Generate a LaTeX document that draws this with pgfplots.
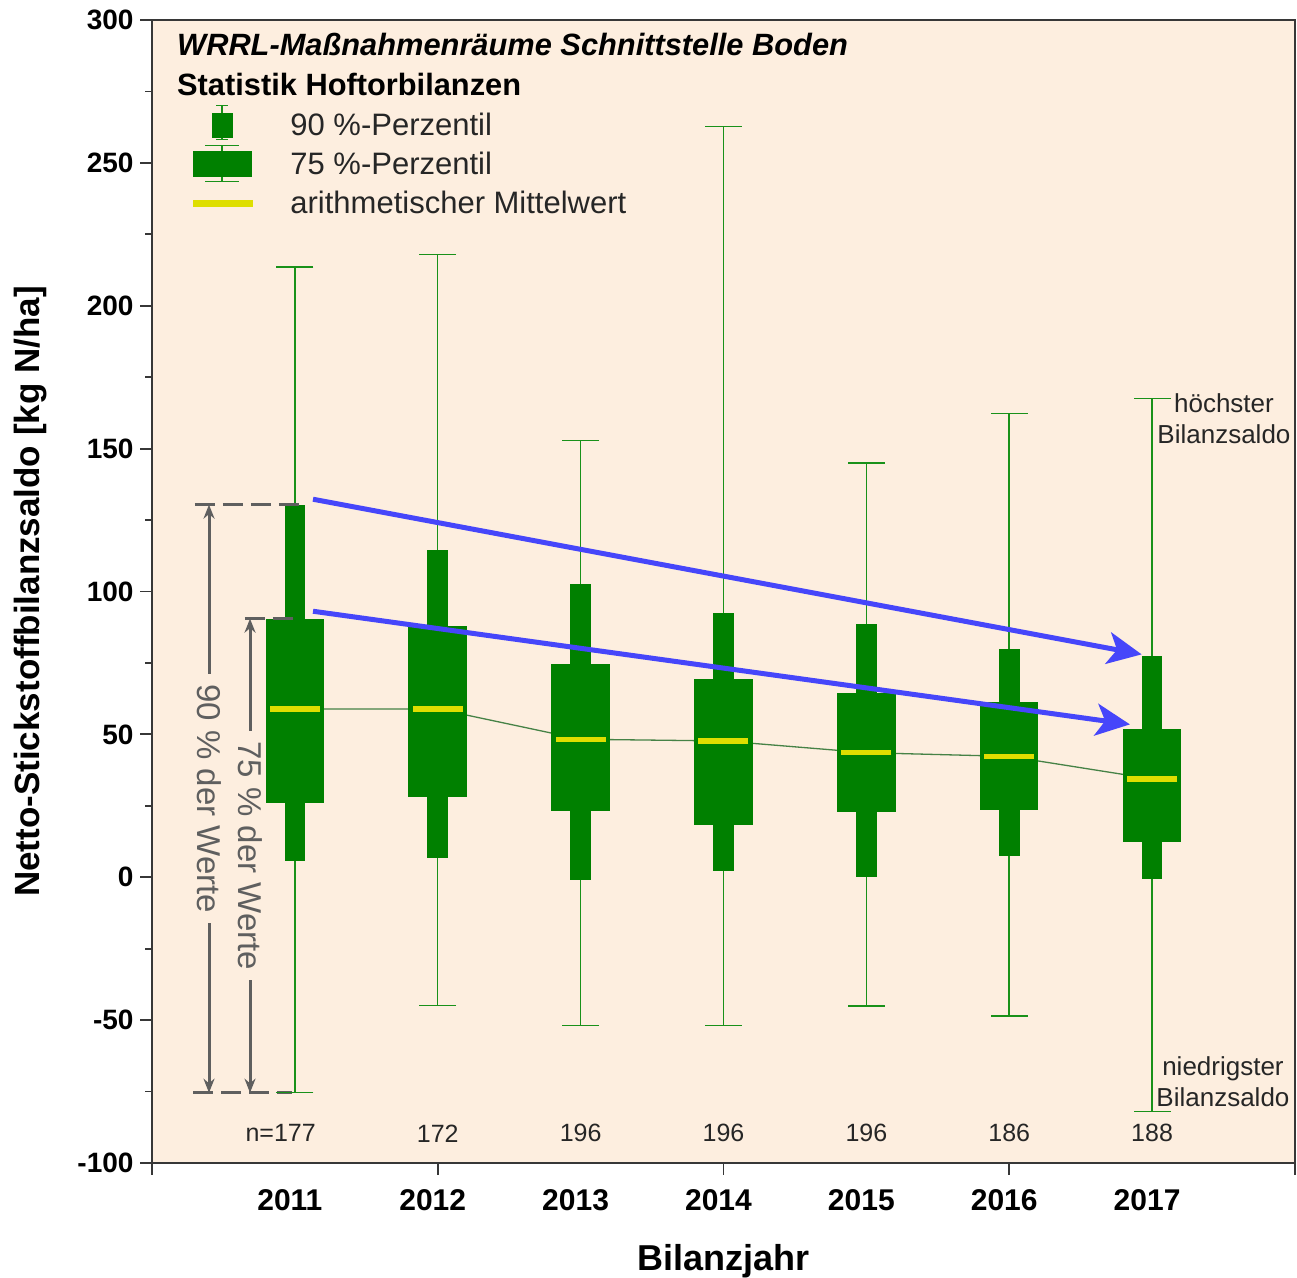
\documentclass[border=0pt]{standalone}
\usepackage{pgfplots}
\pgfplotsset{compat=1.18}
\usepackage{pgfplotstable}
\usepackage{fontspec}
\setmainfont{Liberation Sans}
\usetikzlibrary{arrows.meta}

\definecolor{panelbg}{RGB}{253,238,223}
\definecolor{boxgreen}{RGB}{0,128,0}
\definecolor{whiskgreen}{RGB}{25,145,25}
\definecolor{meangreen}{RGB}{70,130,70}
\definecolor{meanyellow}{RGB}{222,222,0}
\definecolor{trendblue}{RGB}{70,70,250}
\definecolor{annogray}{RGB}{95,95,95}
\definecolor{framegray}{RGB}{55,55,55}

% Hoftorbilanzen: Minimum, Perzentile, Mittelwert, Maximum je Bilanzjahr [kg N/ha]
\pgfplotstableread{
year  min    p5    q1    mean  q3    p95    max
2011  -75.4  5.6   26.1  58.9  90.5  130.4  213.5
2012  -44.8  6.8   28.2  58.9  87.8  114.7  218.0
2013  -51.8  -1.0  23.1  48.3  74.5  102.5  152.8
2014  -51.8  2.2   18.2  47.7  69.3  92.5   262.8
2015  -45.1  0.2   23.0  43.6  64.6  88.5   144.9
2016  -48.6  7.6   23.4  42.3  61.2  79.9   162.3
2017  -81.9  -0.5  12.2  34.4  51.9  77.3   167.5
}\saldo

\begin{document}
\begin{tikzpicture}
\path[use as bounding box] (-152pt,-114pt) rectangle (1145pt,1163pt);
\begin{axis}[
  at={(0pt,0pt)}, anchor=south west,
  scale only axis, width=1143pt, height=1143pt,
  xmin=2010, xmax=2018, ymin=-100, ymax=300,
  clip=false,
  axis background/.style={fill=panelbg},
  axis line style={draw=framegray, line width=2.5pt},
  tick style={draw=framegray, line width=1.8pt},
  tick align=outside, major tick length=12pt, minor tick length=7pt,
  ytick={-100,-50,...,300}, minor ytick={-75,-25,...,275},
  ytick pos=left, xtick pos=bottom,
  xtick={2011,2012,2013,2014,2015,2016,2017},
  xticklabels={2011,2012,2013,2014,2015,2016,2017},
  xtick style={draw=none},
  /pgf/number format/assume math mode=true,
  yticklabel style={font=\fontsize{28}{32}\selectfont\bfseries, xshift=-3pt},
  xticklabel style={font=\fontsize{30}{34}\selectfont\bfseries, yshift=-11pt, xshift=-5pt},
  xlabel={Bilanzjahr},
  ylabel={Netto-Stickstoffbilanzsaldo [kg N/ha]},
  xlabel style={at={(axis description cs:0.5,-0.0855)}, anchor=center,
    font=\fontsize{36}{40}\selectfont\bfseries},
  ylabel style={at={(axis description cs:-0.1067,0.5)}, anchor=center,
    font=\fontsize{35}{40}\selectfont\bfseries},
  legend cell align=left,
  legend style={at={(axis description cs:0.0359,0.9261)}, anchor=north west,
    draw=none, fill=none, inner sep=0pt, outer sep=0pt,
    row sep=0pt, /tikz/column sep=38pt,
    nodes={inner sep=0pt, text height=22pt, text depth=0pt,
      minimum height=39pt, font=\fontsize{31}{36}\selectfont, text=black!85}},
]

% legend symbols
\addlegendimage{legend image code/.code={
  \draw[whiskgreen, line width=1.5pt] (29pt,-15pt) -- (29pt,19pt)
    (23pt,19pt) -- (35pt,19pt) (23pt,-15pt) -- (35pt,-15pt);
  \fill[boxgreen] (19pt,-13pt) rectangle (39pt,11pt);
}}
\addlegendentry{90 \%-Perzentil}
\addlegendimage{legend image code/.code={
  \draw[whiskgreen, line width=1.5pt] (29pt,-18pt) -- (29pt,18pt)
    (12pt,18pt) -- (46pt,18pt) (12pt,-18pt) -- (46pt,-18pt);
  \fill[boxgreen] (0pt,-13pt) rectangle (58pt,12pt);
}}
\addlegendentry{75 \%-Perzentil}
\addlegendimage{legend image code/.code={
  \fill[meanyellow] (0pt,-4pt) rectangle (59pt,2pt);
}}
\addlegendentry{arithmetischer Mittelwert}

% line through the annual means
\addplot[forget plot, meangreen, line width=1.3pt] table[x=year, y=mean] {\saldo};

% whiskers from lowest to highest balance
\addplot[forget plot, only marks, mark=none,
  error bars/.cd, y dir=both, y explicit, error mark=none,
  error bar style={draw=whiskgreen, line width=1.5pt}]
  table[x=year, y=mean,
    y error plus expr={\thisrow{max}-\thisrow{mean}},
    y error minus expr={\thisrow{mean}-\thisrow{min}}] {\saldo};
\addplot[forget plot, only marks, mark=-, mark size=18.5pt,
  mark options={draw=whiskgreen, line width=1.5pt}]
  table[x=year, y=max] {\saldo};
\addplot[forget plot, only marks, mark=-, mark size=18.5pt,
  mark options={draw=whiskgreen, line width=1.5pt}]
  table[x=year, y=min] {\saldo};

% 90 % band (5.-95. Perzentil)
\addplot[forget plot, only marks, mark=none,
  error bars/.cd, y dir=both, y explicit, error mark=none,
  error bar style={draw=boxgreen, line width=20.7pt}]
  table[x=year, y=mean,
    y error plus expr={\thisrow{p95}-\thisrow{mean}},
    y error minus expr={\thisrow{mean}-\thisrow{p5}}] {\saldo};

% 75 % band (12,5.-87,5. Perzentil)
\addplot[forget plot, only marks, mark=none,
  error bars/.cd, y dir=both, y explicit, error mark=none,
  error bar style={draw=boxgreen, line width=58.5pt}]
  table[x=year, y=mean,
    y error plus expr={\thisrow{q3}-\thisrow{mean}},
    y error minus expr={\thisrow{mean}-\thisrow{q1}}] {\saldo};

% arithmetic means
\addplot[forget plot, only marks, mark=-, mark size=25pt,
  mark options={draw=meanyellow, line width=5.5pt}]
  table[x=year, y=mean] {\saldo};

% sample sizes
\addplot[forget plot, draw=none, mark=none,
  nodes near coords, point meta=explicit symbolic,
  every node near coord/.append style={anchor=center, inner sep=0pt,
    font=\fontsize{25}{30}\selectfont, text=black!85}]
  coordinates {
    (2011,-89.6) [\llap{n=}177]
    (2012,-89.6) [172]
    (2013,-89.6) [196]
    (2014,-89.6) [196]
    (2015,-89.6) [196]
    (2016,-89.6) [186]
    (2017,-89.6) [188]
  };

% range markers for 2011
\draw[annogray, line width=3pt, dash pattern=on 20pt off 8pt]
  (axis cs:2010.30,130.4) -- (axis cs:2011.06,130.4);
\draw[annogray, line width=3pt, dash pattern=on 20pt off 8pt]
  (axis cs:2010.65,90.5) -- (axis cs:2010.99,90.5);
\draw[annogray, line width=3pt, dash pattern=on 20pt off 8pt]
  (axis cs:2010.287,-75.4) -- (axis cs:2010.98,-75.4);
\draw[annogray, line width=3pt,
  {Stealth[length=14pt,width=11pt]}-{Stealth[length=14pt,width=11pt]}]
  (axis cs:2010.399,130.4) -- node[pos=0.5, rotate=-90, fill=panelbg,
    inner xsep=10pt, inner ysep=1pt, text=annogray,
    font=\fontsize{33}{38}\selectfont] {90 \% der Werte}
  (axis cs:2010.399,-75.4);
\draw[annogray, line width=3pt,
  {Stealth[length=14pt,width=11pt]}-{Stealth[length=14pt,width=11pt]}]
  (axis cs:2010.686,90.5) -- node[pos=0.5, rotate=-90, fill=panelbg,
    inner xsep=10pt, inner ysep=1pt, text=annogray,
    font=\fontsize{33}{38}\selectfont] {75 \% der Werte}
  (axis cs:2010.686,-75.4);

% trend arrows
\draw[trendblue, line width=5pt, -{Stealth[length=34pt,width=32pt,inset=9pt]}]
  (axis cs:2011.127,132.3) -- (axis cs:2016.927,78.0);
\draw[trendblue, line width=5pt, -{Stealth[length=34pt,width=32pt,inset=9pt]}]
  (axis cs:2011.127,93.1) -- (axis cs:2016.845,53.5);

% explanations at 2017
\node[align=center, inner sep=0pt, text=black!85, font=\fontsize{26}{31}\selectfont]
  at (axis cs:2017.503,160.6) {höchster\\Bilanzsaldo};
\node[align=center, inner sep=0pt, text=black!85, font=\fontsize{26}{31}\selectfont]
  at (axis cs:2017.496,-71.7) {niedrigster\\Bilanzsaldo};

% heading
\node[anchor=base west, inner sep=0pt, font=\fontsize{30.8}{36}\selectfont\bfseries\itshape]
  at (rel axis cs:0.02187,0.9694) {WRRL-Maßnahmenräume Schnittstelle Boden};
\node[anchor=base west, inner sep=0pt, font=\fontsize{30.8}{36}\selectfont\bfseries]
  at (rel axis cs:0.02187,0.9344) {Statistik Hoftorbilanzen};

% even-year ticks below the x axis
\pgfplotsinvokeforeach{2010,2012,2014,2016,2018}{
  \draw[framegray, line width=1.8pt] (axis cs:#1,-100) -- ++(0pt,-12pt);
}

\end{axis}
\end{tikzpicture}
\end{document}
